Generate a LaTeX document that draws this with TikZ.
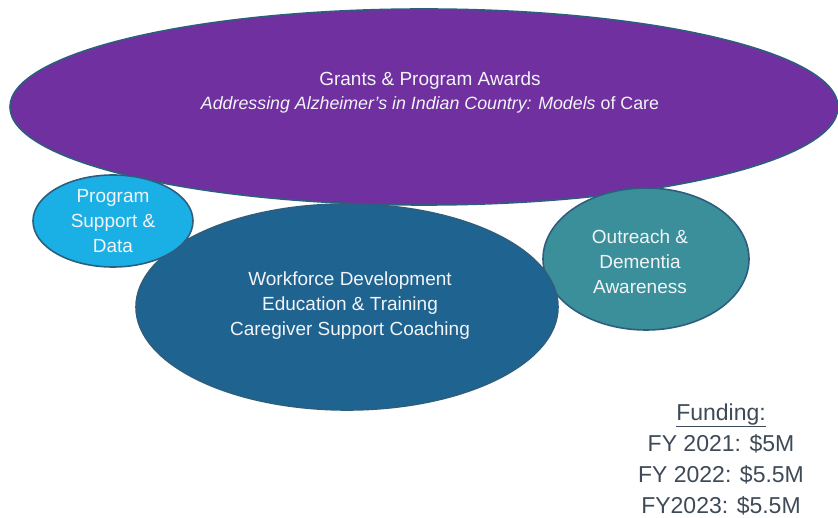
\documentclass[tikz,border=0pt]{standalone}
\usepackage{fontspec}
\setmainfont{Liberation Sans}
\usepackage{tikz}
\usetikzlibrary{shapes,positioning}
\definecolor{grantpurple}{HTML}{7030A0}
\definecolor{workblue}{HTML}{1F6391}
\definecolor{supportblue}{HTML}{1AB0E6}
\definecolor{outreachteal}{HTML}{3A8F9A}
\definecolor{rimblue}{HTML}{2D5E7E}
\definecolor{softwhite}{HTML}{F2F4F6}
\definecolor{fundgray}{HTML}{3E4A58}
\tikzstyle{blob}=[ellipse,draw=rimblue,line width=1.6bp,inner sep=0pt]
\tikzstyle{txt}=[align=center,text=softwhite,font=\fontsize{19bp}{25bp}\selectfont,inner sep=0pt]

\begin{document}
\begin{tikzpicture}[x=1bp,y=-1bp]
      \useasboundingbox (0,0) rectangle (838,518);
      \node[blob,fill=grantpurple,minimum width=828bp,minimum height=196bp] at (424,107) (grants) {};
      \node[blob,fill=outreachteal,minimum width=206bp,minimum height=142bp] at (646,259) (outreach) {};
      \node[blob,fill=workblue,minimum width=422bp,minimum height=206bp] at (347,307) (work) {};
      \node[blob,fill=supportblue,minimum width=160bp,minimum height=92bp] at (113,221) (support) {};
      \node[txt] at (430,92) (grantstxt) {Grants \& Program Awards\\[-1bp]
        {\fontsize{17.8bp}{20bp}\selectfont\itshape Addressing Alzheimer’s in Indian Country: Models \upshape of Care}};
      \node[txt] at (640,262) (outreachtxt) {Outreach \&\\Dementia\\Awareness};
      \node[txt] at (350,306) (worktxt) {Workforce Development\\Education \& Training\\Caregiver Support Coaching};
      \node[txt] at (113,221) (supporttxt) {Program\\Support \&\\Data};
      \node[txt,text=fundgray,font=\fontsize{23bp}{31bp}\selectfont] at (721,459) (funding) {\underline{Funding:}\\FY 2021: \$5M\\FY 2022: \$5.5M\\FY2023: \$5.5M};
\end{tikzpicture}
\end{document}
